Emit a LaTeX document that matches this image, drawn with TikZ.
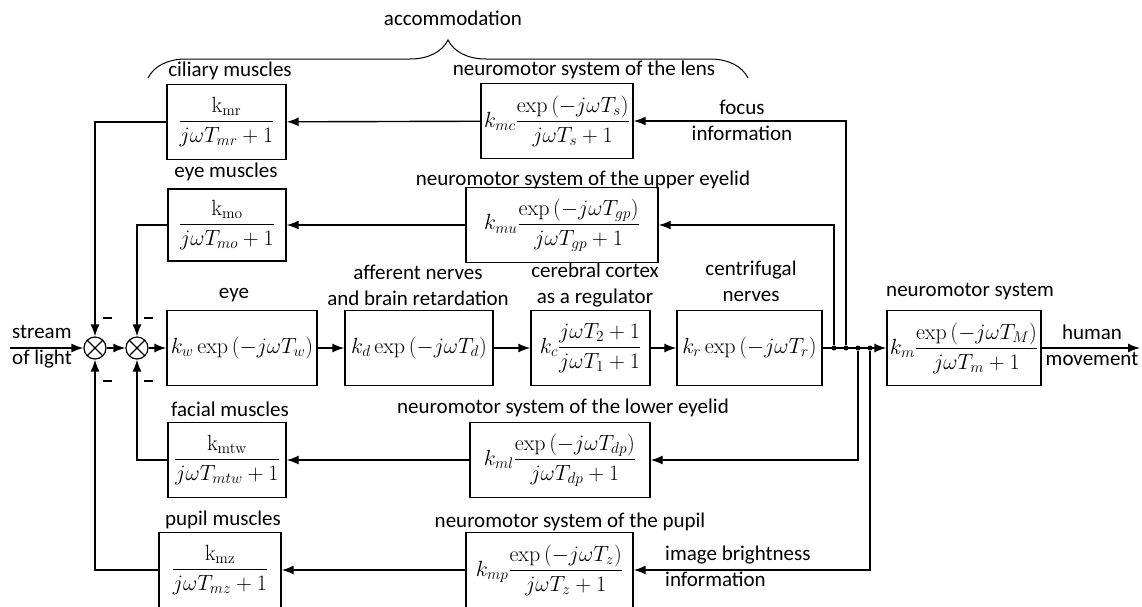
\RequirePackage{fix-cm}
\documentclass[tikz,border=0pt]{standalone}
\usepackage{amsmath}
\usepackage[no-math]{fontspec}
\setmainfont{Carlito}
\usetikzlibrary{arrows.meta,decorations.pathreplacing,positioning}

\tikzset{
  blk/.style={draw, line width=1.4pt, inner sep=0pt, minimum height=75pt, font=\fontsize{22}{26}\selectfont},
  sumnode/.style={draw, circle, line width=1.2pt, minimum size=22pt, inner sep=0pt,
    path picture={\draw[line width=1.1pt] (path picture bounding box.north west) -- (path picture bounding box.south east)
      (path picture bounding box.north east) -- (path picture bounding box.south west);}},
  jdot/.style={circle, fill, inner sep=0pt, minimum size=5pt},
  lbl/.style={inner sep=0pt, align=center},
  wire/.style={line width=1.4pt},
  sig/.style={wire, -{Latex[length=12pt,width=9pt]}},
}

\begin{document}
\begin{tikzpicture}[x=1pt, y=-1pt, font=\fontsize{21}{26}\selectfont]
\path[use as bounding box, clip] (0,0) rectangle (1142,606);

% forward path
\node[sumnode] (s1) at (95,348) {};
\node[sumnode] (s2) at (137,348) {};
\node[blk, minimum width=150pt] (eye) at (242,348) {$k_w\exp\,(-j\omega T_w)$};
\node[blk, minimum width=148pt] (aff) at (419,348) {$k_d\exp\,(-j\omega T_d)$};
\node[blk, minimum width=119pt] (ctx) at (590.5,348) {$k_c\dfrac{j\omega T_2+1}{j\omega T_1+1}$};
\node[blk, minimum width=145pt] (cfn) at (749.5,348) {$k_r\exp\,(-j\omega T_r)$};
\node[blk, minimum width=154pt] (nms) at (964,348) {$k_m\dfrac{\exp\,(-j\omega T_M)}{j\omega T_m+1}$};

\node[jdot] (d1) at (834,348) {};
\node[jdot] (d2) at (846,348) {};
\node[jdot] (d3) at (858,348) {};
\node[jdot] (d4) at (870,348) {};

% feedback blocks
\node[blk, minimum width=152pt] (lens) at (557,121) {$k_{mc}\dfrac{\exp\,(-j\omega T_s)}{j\omega T_s+1}$};
\node[blk, minimum width=119pt] (cil) at (226.5,122) {$\dfrac{\mathrm{k}_{\mathrm{mr}}}{j\omega T_{mr}+1}$};
\node[blk, minimum width=192pt] (upl) at (562,225) {$k_{mu}\dfrac{\exp\,(-j\omega T_{gp})}{j\omega T_{gp}+1}$};
\node[blk, minimum width=118pt, minimum height=72pt] (eym) at (227,225) {$\dfrac{\mathrm{k}_{\mathrm{mo}}}{j\omega T_{mo}+1}$};
\node[blk, minimum width=180pt] (lwl) at (560,460) {$k_{ml}\dfrac{\exp\,(-j\omega T_{dp})}{j\omega T_{dp}+1}$};
\node[blk, minimum width=118pt] (fcm) at (227,460) {$\dfrac{\mathrm{k}_{\mathrm{mtw}}}{j\omega T_{mtw}+1}$};
\node[blk, minimum width=167pt] (ppn) at (549.5,570) {$k_{mp}\dfrac{\exp\,(-j\omega T_z)}{j\omega T_z+1}$};
\node[blk, minimum width=122pt] (ppm) at (220,570) {$\dfrac{\mathrm{k}_{\mathrm{mz}}}{j\omega T_{mz}+1}$};

\coordinate (in) at (10,348);
\coordinate (out) at (1140,348);

% connectors
\draw[sig] (in) -- (s1);
\draw[sig] (s1) -- (s2);
\draw[sig] (s2) -- (eye);
\draw[sig] (eye) -- (aff);
\draw[sig] (aff) -- (ctx);
\draw[sig] (ctx) -- (cfn);
\draw[sig] (cfn) -- (nms);
\draw[sig] (nms) -- (out);

\draw[sig] (d2) |- (lens.east);
\draw[sig] (lens) -- (cil);
\draw[sig] (cil) -| (s1);
\draw[sig] (d1) |- (upl.east);
\draw[sig] (upl) -- (eym);
\draw[sig] (eym) -| (s2);
\draw[sig] (d3) |- (lwl.east);
\draw[sig] (lwl) -- (fcm);
\draw[sig] (fcm) -| (s2);
\draw[sig] (d4) |- (ppn.east);
\draw[sig] (ppn) -- (ppm);
\draw[sig] (ppm) -| (s1);

% signs
\node[lbl] (m1) at (107,318) {\rule{9pt}{2.6pt}};
\node[lbl] (m2) at (107,381) {\rule{9pt}{2.6pt}};
\node[lbl] (m3) at (148,318) {\rule{9pt}{2.6pt}};
\node[lbl] (m4) at (148,381) {\rule{9pt}{2.6pt}};

% labels
\node[lbl] (acc) at (453,18) {accommodation};
\draw[line width=1pt, decorate, decoration={brace, amplitude=38pt}] (148,78) -- (748,78);
\node[lbl] (tcil) at (230,71) {ciliary muscles};
\node[lbl] (tlens) at (584,70) {neuromotor system of the lens};
\node[lbl] (teym) at (226,172) {eye muscles};
\node[lbl] (tupl) at (583,180) {neuromotor system of the upper eyelid};
\node[lbl] (tfoc) at (742,120) {focus\\information};
\node[lbl] (teye) at (234,295) {eye};
\node[lbl] (taff) at (418,285.5) {afferent nerves\\and brain retardation};
\node[lbl] (tctx) at (595,285) {cerebral cortex\\as a regulator};
\node[lbl] (tcfn) at (751,281.5) {centrifugal\\nerves};
\node[lbl] (tnms) at (970,292) {neuromotor system};
\node[lbl] (thum) at (1092,345.5) {human\\movement};
\node[lbl, align=left, anchor=west] (tin) at (12,346.5) {stream\\of light};
\node[lbl] (tfcm) at (230,409) {facial muscles};
\node[lbl] (tlwl) at (563,408) {neuromotor system of the lower eyelid};
\node[lbl] (tppm) at (223,520) {pupil muscles};
\node[lbl] (tppn) at (570,522) {neuromotor system of the pupil};
\node[lbl, align=left, anchor=west] (tbri) at (665,566.5) {image brightness\\information};

\end{tikzpicture}
\end{document}
